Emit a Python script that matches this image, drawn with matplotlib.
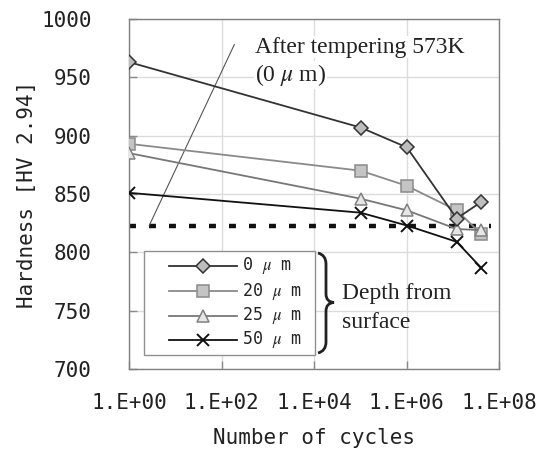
import matplotlib
matplotlib.use("Agg")
import matplotlib.pyplot as plt
from matplotlib.path import Path
from matplotlib.patches import PathPatch, Rectangle
from matplotlib.lines import Line2D
from matplotlib.ticker import FixedLocator, FixedFormatter, NullLocator

# ---- data ----
cycles = [1, 1e5, 1e6, 1.2e7, 4e7]
h0 = [963, 907, 890, 829, 843]
h20 = [893, 870, 857, 836, 816]
h25 = [885, 846, 836, 820, 819]
h50 = [851, 834, 823, 809, 787]
labels = ["0 $\\mu$ m", "20 $\\mu$ m", "25 $\\mu$ m", "50 $\\mu$ m"]
ref_x = [1, 6.6e7]
ref_y = [823, 823]
xticks = [1, 1e2, 1e4, 1e6, 1e8]
xticklabels = ["1.E+00", "1.E+02", "1.E+04", "1.E+06", "1.E+08"]
yticks = [700, 750, 800, 850, 900, 950, 1000]

W, H = 549, 450
plt.rcParams['lines.scale_dashes'] = False
plt.rcParams['mathtext.fontset'] = 'stix'
mono = ['DejaVu Sans Mono']
serif = ['Liberation Serif', 'DejaVu Serif']
txtc = '#222222'

fig = plt.figure(figsize=(W / 100, H / 100), dpi=100)
ax = fig.add_axes([129.3 / W, 1 - 369 / H, (499.3 - 129.3) / W, (369 - 19) / H])

def px(x, y):
    return (x / W, 1 - y / H)

ax.set_xscale('log')
ax.set_xlim(1, 1e8)
ax.set_ylim(700, 1000)
ax.xaxis.set_major_locator(FixedLocator(xticks))
ax.xaxis.set_major_formatter(FixedFormatter(xticklabels))
ax.xaxis.set_minor_locator(NullLocator())
ax.set_yticks(yticks)
ax.grid(True, color='#dcdcdc', lw=1.0, zorder=0)
ax.set_axisbelow(True)
for s in ax.spines.values():
    s.set_color('#808080')
    s.set_linewidth(1.0)
ax.tick_params(direction='in', length=6, color='#8a8a8a', width=1.0,
               labelsize=15, labelcolor=txtc)
ax.tick_params(axis='y', pad=27)
ax.tick_params(axis='x', pad=17)
for lab in ax.get_xticklabels() + ax.get_yticklabels():
    lab.set_family(mono)

ax.set_xlabel("Number of cycles", family=mono, fontsize=15, labelpad=11, color=txtc)
ax.set_ylabel("Hardness [HV 2.94]", family=mono, fontsize=15, labelpad=3, color=txtc)

styles = [
    dict(color='#333333', lw=1.3, marker='D', ms=7.5, mfc='#bdbdbd', mec='#333333', mew=1.1),
    dict(color='#8a8a8a', lw=1.3, marker='s', ms=8.2, mfc='#c4c4c4', mec='#8a8a8a', mew=1.1),
    dict(color='#777777', lw=1.3, marker='^', ms=9, mfc='#e6e6e6', mec='#808080', mew=1.1),
    dict(color='#111111', lw=1.3, marker='x', ms=9, mec='#111111', mew=1.4),
]
series = [h0, h20, h25, h50]
zs = [5, 4, 4, 6]

# reference dashed line
ax.plot(ref_x, ref_y, color='#111111', lw=3.2, dashes=(5.0, 9.4),
        dash_capstyle='butt', zorder=2)

for ys, st, z in zip(series, styles, zs):
    ax.plot(cycles, ys, zorder=z, **st)

# annotation thin line
ax.plot([2.7, 186], [823, 978], color='#555555', lw=0.8, zorder=3)

fig.text(*px(255, 47), "After tempering 573K", family=serif, fontsize=17,
         ha='left', va='center', color=txtc,
         bbox=dict(facecolor='white', edgecolor='none', pad=0.5))
fig.text(*px(255, 75), "(0 $\\mu$ m)", family=serif, fontsize=17,
         ha='left', va='center', color=txtc,
         bbox=dict(facecolor='white', edgecolor='none', pad=0.5))

# legend (drawn as a box with sample lines)
fig.add_artist(Rectangle(px(144.3, 355), (315 - 144.3) / W, (355 - 250.7) / H,
                         transform=fig.transFigure, facecolor='white',
                         edgecolor='#909090', lw=1.0, zorder=9))
rows = [265.7, 291.0, 315.5, 340.0]
for yy, st, lab in zip(rows, styles, labels):
    a = px(169, yy)
    b = px(237, yy)
    m = px(203, yy)
    st2 = dict(st)
    marker_kw = {k: st2.pop(k) for k in ['marker', 'ms', 'mfc', 'mec', 'mew'] if k in st2}
    fig.add_artist(Line2D([a[0], b[0]], [a[1], b[1]], transform=fig.transFigure,
                          zorder=10, **st2))
    fig.add_artist(Line2D([m[0]], [m[1]], transform=fig.transFigure,
                          zorder=11, ls='none', **marker_kw))
    fig.text(*px(242, yy), lab, family=mono, fontsize=12, color=txtc,
             ha='left', va='center', zorder=12)

# brace
verts = [px(318, 253), px(326, 255), px(326, 264),
         px(326, 294),
         px(326, 302), px(334, 302.5),
         px(326, 303), px(326, 311),
         px(326, 342),
         px(326, 351), px(318, 353)]
codes = [Path.MOVETO, Path.CURVE3, Path.CURVE3,
         Path.LINETO,
         Path.CURVE3, Path.CURVE3,
         Path.CURVE3, Path.CURVE3,
         Path.LINETO,
         Path.CURVE3, Path.CURVE3]
brace = PathPatch(Path(verts, codes), transform=fig.transFigure,
                  facecolor='none', edgecolor='#222222', lw=2.0, zorder=10)
fig.add_artist(brace)

fig.text(*px(342, 293), "Depth from", family=serif, fontsize=17,
         ha='left', va='center', color=txtc)
fig.text(*px(342, 322), "surface", family=serif, fontsize=17,
         ha='left', va='center', color=txtc)

fig.savefig("out.png", dpi=100)
